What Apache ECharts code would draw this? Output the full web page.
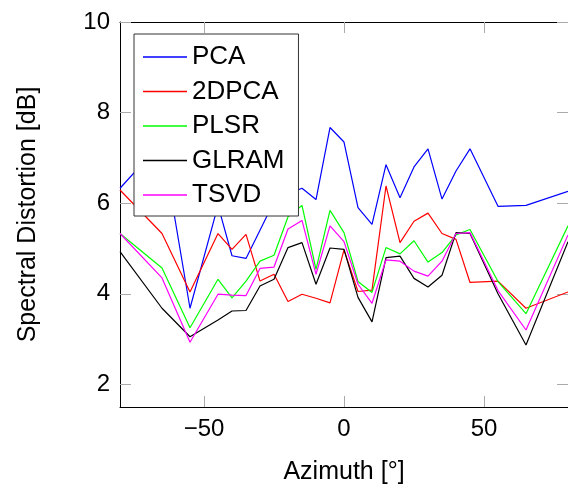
<!DOCTYPE html>
<html>
<head>
<meta charset="utf-8">
<script src="https://cdn.jsdelivr.net/npm/echarts@6/dist/echarts.min.js"></script>
<style>
html, body { margin: 0; padding: 0; background: #fff; }
#chart { width: 568px; height: 490px; }
</style>
</head>
<body>
<div id="chart"></div>
<script>
// azimuth angles (deg)
const azimuth = [-80, -65, -55, -45, -40, -35, -30, -25, -20, -15, -10, -5, 0, 5, 10, 15, 20, 25, 30, 35, 40, 45, 55, 65, 80]
const pca   = [6.33, 7.35, 3.68, 5.95, 4.84, 4.78, 5.40, 6.03, 6.20, 6.33, 6.08, 7.67, 7.35, 5.90, 5.53, 6.85, 6.12, 6.80, 7.20, 6.09, 6.71, 7.20, 5.93, 5.95, 6.26]
const pca2d = [6.29, 5.33, 4.04, 5.33, 4.98, 5.31, 4.28, 4.43, 3.83, 3.99, 3.90, 3.80, 4.97, 4.05, 4.08, 6.38, 5.13, 5.60, 5.78, 5.33, 5.20, 4.25, 4.28, 3.68, 4.04]
const plsr  = [5.33, 4.57, 3.25, 4.32, 3.91, 4.28, 4.72, 4.85, 5.70, 5.95, 4.54, 5.84, 5.35, 4.27, 4.03, 5.02, 4.88, 5.17, 4.70, 4.91, 5.30, 5.42, 4.27, 3.56, 5.50]
const glram = [4.93, 3.68, 3.05, 3.42, 3.62, 3.63, 4.17, 4.32, 5.02, 5.13, 4.21, 5.01, 4.98, 3.92, 3.38, 4.80, 4.83, 4.34, 4.15, 4.41, 5.35, 5.33, 4.00, 2.87, 5.15]
const tsvd  = [5.33, 4.35, 2.93, 3.99, 3.97, 3.96, 4.56, 4.59, 5.43, 5.62, 4.43, 5.50, 5.15, 4.21, 3.79, 4.75, 4.72, 4.50, 4.39, 4.72, 5.33, 5.35, 4.07, 3.20, 5.30]
const xTicks = [-50, 0, 50]
const yTicks = [2, 4, 6, 8, 10]

const names = ['PCA', '2DPCA', 'PLSR', 'GLRAM', 'TSVD']
const colors = ['#0000ff', '#ff0000', '#00ff00', '#000000', '#ff00ff']
const values = [pca, pca2d, plsr, glram, tsvd]

let myChart = echarts.init(document.getElementById('chart'))
let seriesData = []
for (let i = 0; i < names.length; i++) {
    seriesData.push({
        name: names[i], type: 'line', symbol: 'none', animation: false,
        lineStyle: { width: 1.2, color: colors[i] },
        itemStyle: { color: colors[i] },
        data: azimuth.map((a, j) => [a, values[i][j]])
    })
}
const font = '"Liberation Sans", Arial, sans-serif'
const tick = { show: true, inside: true, length: 11, lineStyle: { color: '#aaaaaa', width: 1 } }
const line = { show: true, onZero: false, lineStyle: { color: '#000', width: 1 } }
let option = {
    color: colors,
    textStyle: { fontFamily: font },
    grid: { left: 120, top: 22, width: 454, height: 391 },
    legend: {
        orient: 'vertical',
        left: 134, top: 34,
        icon: 'rect',
        itemWidth: 44, itemHeight: 1.5,
        itemGap: 4.5,
        padding: [8, 14, 6, 9],
        borderColor: '#333', borderWidth: 1,
        backgroundColor: '#fff',
        textStyle: { fontSize: 26, lineHeight: 30, color: '#000', fontFamily: font },
        data: names
    },
    xAxis: [{
        type: 'value', min: -80, max: 80,
        name: 'Azimuth [°]', nameLocation: 'middle', nameGap: 53,
        nameTextStyle: { fontSize: 25, color: '#000', fontFamily: font },
        axisLine: line,
        axisTick: Object.assign({ customValues: xTicks }, tick),
        axisLabel: { customValues: xTicks, fontSize: 24, color: '#000', margin: 10, fontFamily: font,
            formatter: v => String(v).replace('-', '\u2212') },
        splitLine: { show: false }
    }, {
        type: 'value', min: -80, max: 80, position: 'top',
        axisLine: line,
        axisTick: Object.assign({ customValues: xTicks }, tick),
        axisLabel: { show: false },
        splitLine: { show: false }
    }],
    yAxis: [{
        type: 'value', min: 1.5, max: 10,
        name: 'Spectral Distortion [dB]', nameLocation: 'middle', nameGap: 79, nameRotate: 90,
        nameTextStyle: { fontSize: 25, color: '#000', fontFamily: font },
        axisLine: line,
        axisTick: Object.assign({ customValues: yTicks }, tick),
        axisLabel: { customValues: yTicks, fontSize: 24, color: '#000', margin: 10, fontFamily: font },
        splitLine: { show: false }
    }, {
        type: 'value', min: 1.5, max: 10, position: 'right',
        axisLine: line,
        axisTick: Object.assign({ customValues: yTicks }, tick),
        axisLabel: { show: false },
        splitLine: { show: false }
    }],
    series: seriesData
}
myChart.setOption(option)
window.addEventListener('resize', function () {
    myChart.resize()
})
</script>
</body>
</html>
